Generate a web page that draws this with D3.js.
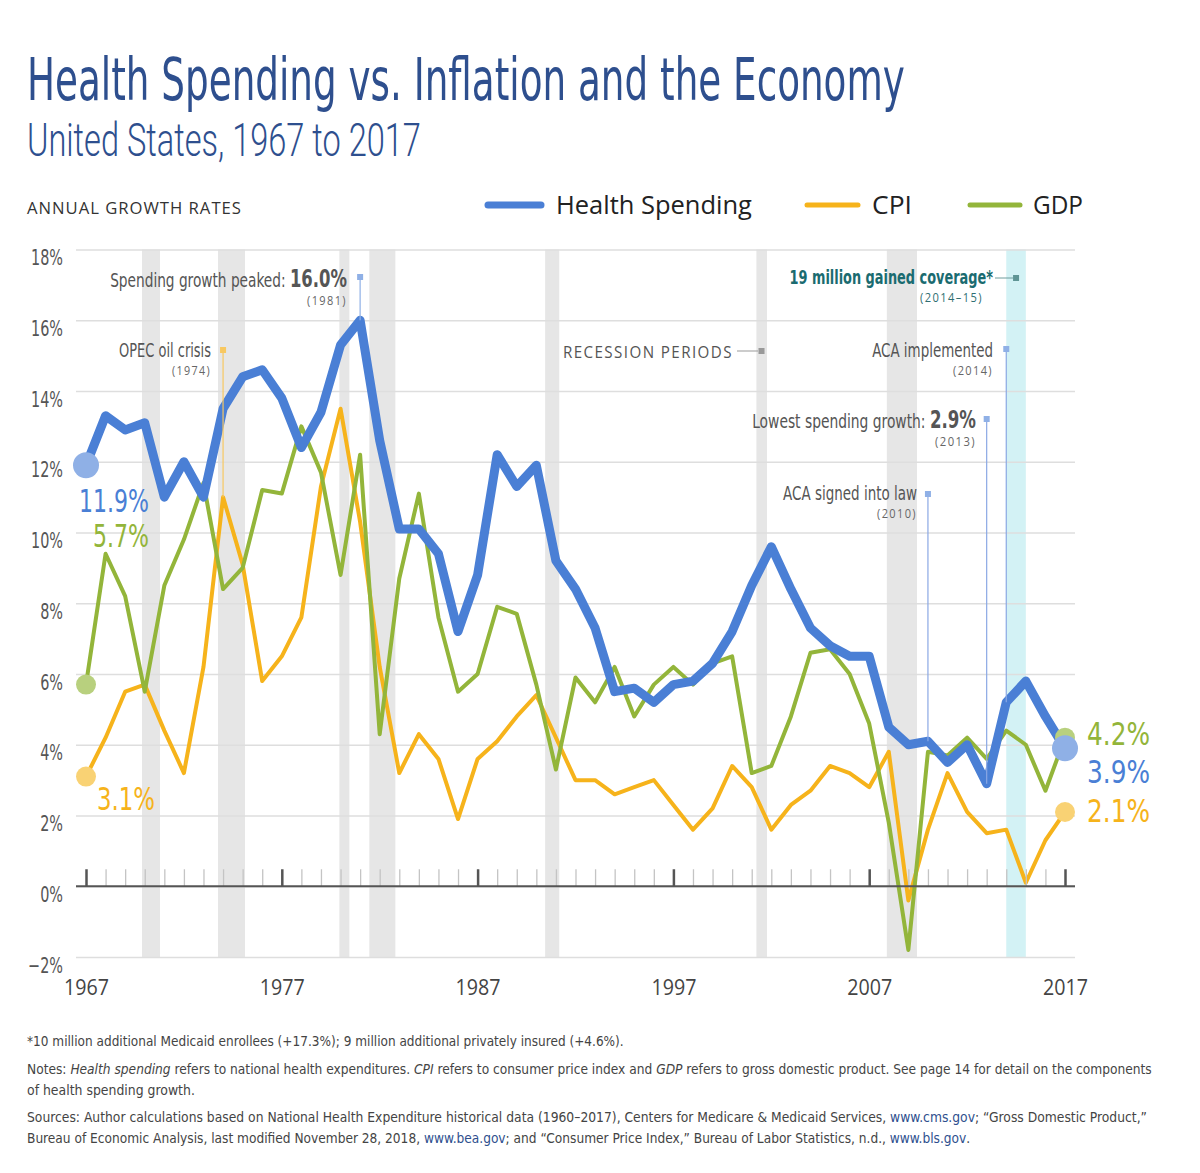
<!DOCTYPE html>
<html><head><meta charset="utf-8">
<script src="https://cdn.jsdelivr.net/npm/d3@7"></script>
<style>body{margin:0;background:#fff} svg{display:block}</style>
</head><body>
<svg id="c" width="1200" height="1173"></svg>
<script>
// ---------------- DATA ----------------
const years = d3.range(1967, 2018);
const health = [11.9,13.3,12.9,13.1,11.0,12.0,11.0,13.5,14.4,14.6,
                13.8,12.4,13.4,15.3,16.0,12.6,10.1,10.1,9.4,7.2,
                8.8,12.2,11.3,11.9,9.2,8.4,7.3,5.5,5.6,5.2,
                5.7,5.8,6.3,7.2,8.5,9.6,8.4,7.3,6.8,6.5,
                6.5,4.5,4.0,4.1,3.5,4.0,2.9,5.2,5.8,4.8,
                3.9];
const cpi = [3.1,4.2,5.5,5.7,4.4,3.2,6.2,11.0,9.1,5.8,
             6.5,7.6,11.3,13.5,10.3,6.2,3.2,4.3,3.6,1.9,
             3.6,4.1,4.8,5.4,4.2,3.0,3.0,2.6,2.8,3.0,
             2.3,1.6,2.2,3.4,2.8,1.6,2.3,2.7,3.4,3.2,
             2.8,3.8,-0.4,1.6,3.2,2.1,1.5,1.6,0.1,1.3,
             2.1];
const gdp = [5.7,9.4,8.2,5.5,8.5,9.8,11.4,8.4,9.0,11.2,
             11.1,13.0,11.7,8.8,12.2,4.3,8.7,11.1,7.6,5.5,
             6.0,7.9,7.7,5.7,3.3,5.9,5.2,6.2,4.8,5.7,
             6.2,5.7,6.3,6.5,3.2,3.4,4.8,6.6,6.7,6.0,
             4.6,1.8,-1.8,3.8,3.7,4.2,3.6,4.4,4.0,2.7,
             4.2];
const yTicks = [-2,0,2,4,6,8,10,12,14,16,18];
const yTickLabels = ["\u22122%","0%","2%","4%","6%","8%","10%","12%","14%","16%","18%"];
const xTickLabels = [1967,1977,1987,1997,2007,2017];
const recessions = [[1969.86,1970.78],[1973.74,1975.12],[1979.94,1980.45],[1981.47,1982.8],
                    [1990.45,1991.17],[2001.24,2001.78],[2007.9,2009.44]];
const coverageBand = [2014, 2015];
const seriesNames = ["Health Spending","CPI","GDP"];

// ---------------- SETUP ----------------
const C = {blue:"#4a7fd5", orange:"#f6b31b", green:"#93b53a",
           blueDot:"#8fb0e6", orangeDot:"#f9d274", greenDot:"#b8d07e",
           title:"#2e4f8e", teal:"#1a6b70"};
const COND = "'Liberation Sans Narrow','Arial Narrow','DejaVu Sans Condensed',Roboto,sans-serif";
const SANS = "'Open Sans','Noto Sans',sans-serif";
const svg = d3.select('#c');
const x = d3.scaleLinear().domain([1967,2017]).range([86,1065]);
const y = d3.scaleLinear().domain([-2,18]).range([957,249.5]);
const gx0 = 76, gx1 = 1075;

function addText(parent, px, py, parts, o) {
  o = o || {};
  const t = parent.append('text').attr('transform', `translate(${px},${py})`)
    .attr('text-anchor', o.anchor || 'start')
    .style('font-family', o.family || COND).style('font-size', (o.size||14)+'px')
    .style('font-weight', o.weight || 400).style('fill', o.fill || '#333');
  if (o.ls) t.style('letter-spacing', o.ls + 'px');
  (typeof parts === 'string' ? [{t: parts}] : parts).forEach(p => {
    const s = t.append('tspan').text(p.t);
    if (p.s) Object.entries(p.s).forEach(([k,v]) => s.style(k, v));
  });
  if (o.w) {
    const bw = t.node().getBBox().width;
    if (bw > 0) t.attr('transform', `translate(${px},${py}) scale(${o.w/bw},1)`);
  }
  return t;
}

// ---------------- TITLES ----------------
addText(svg, 27, 100, "Health Spending vs. Inflation and the Economy", {size:58, fill:C.title, w:878});
addText(svg, 27, 156, "United States, 1967 to 2017", {size:47, fill:C.title, family:"Roboto,"+SANS, weight:300, w:394});
addText(svg, 27, 214, "ANNUAL GROWTH RATES", {size:17, fill:"#333", family:SANS, ls:1, w:215});

// ---------------- LEGEND ----------------
const legend = [
  {name:seriesNames[0], color:C.blue, lx:488, lw:53, tx:556, tw:196, sw:7},
  {name:seriesNames[1], color:C.orange, lx:807, lw:51, tx:872, tw:40, sw:5},
  {name:seriesNames[2], color:C.green, lx:970, lw:50, tx:1033, tw:50, sw:5}];
legend.forEach(l => {
  svg.append('line').attr('x1',l.lx).attr('x2',l.lx+l.lw).attr('y1',205).attr('y2',205)
    .attr('stroke',l.color).attr('stroke-width',l.sw).attr('stroke-linecap','round');
  addText(svg, l.tx, 214, l.name, {size:26, fill:"#222", family:SANS, w:l.tw});
});

// ---------------- BANDS ----------------
const plot = svg.append('g');
plot.selectAll('rect.rec').data(recessions).join('rect').attr('class','rec')
  .attr('x', d => x(d[0])).attr('width', d => x(d[1]) - x(d[0]))
  .attr('y', y(18)).attr('height', y(-2) - y(18)).attr('fill', '#e6e6e6');
plot.append('rect').attr('x', x(coverageBand[0])).attr('width', x(coverageBand[1]) - x(coverageBand[0]))
  .attr('y', y(18)).attr('height', y(-2) - y(18)).attr('fill', '#d3f2f5');

// ---------------- GRID & Y AXIS ----------------
const grid = plot.append('g').attr('transform', `translate(${gx0},0)`)
  .call(d3.axisRight(y).tickValues(yTicks).tickSize(gx1-gx0).tickFormat(''));
grid.select('.domain').remove();
grid.selectAll('line').attr('stroke','#dedede').attr('stroke-width',1.5);

const yAx = svg.append('g').attr('transform','translate(63,0)')
  .call(d3.axisLeft(y).tickValues(yTicks).tickSize(0).tickPadding(0)
        .tickFormat((d,i) => yTickLabels[i]));
yAx.select('.domain').remove();
yAx.selectAll('text').attr('dy',null).attr('y',15).attr('x',0)
  .style('font-family',COND).style('font-size','21px').style('fill','#555');
let refW = 0;
yAx.selectAll('text').each(function(d){ if (d === 18) refW = this.getBBox().width; });
const ys = refW > 0 ? 32 / refW : 1;
yAx.selectAll('text').attr('transform', `scale(${ys},1)`);

// ---------------- X AXIS ----------------
const y0 = y(0);
const xt = svg.append('g').attr('transform', `translate(0,${y0})`)
  .call(d3.axisTop(x).tickValues(years).tickSize(17).tickFormat(''));
xt.select('.domain').remove();
xt.selectAll('.tick line').attr('stroke', d => (d-1967)%10===0 ? '#555' : '#c4c4c4')
  .attr('stroke-width', d => (d-1967)%10===0 ? 2.5 : 1.3);
svg.append('line').attr('x1',gx0).attr('x2',gx1).attr('y1',y0).attr('y2',y0)
  .attr('stroke','#555').attr('stroke-width',2);
const xl = svg.append('g').attr('transform','translate(0,995)')
  .call(d3.axisBottom(x).tickValues(xTickLabels).tickSize(0).tickPadding(0).tickFormat(d3.format('d')));
xl.select('.domain').remove();
xl.selectAll('text').attr('dy',null).attr('y',0)
  .style('font-family',SANS).style('font-size','21px').style('fill','#444');
xl.selectAll('text').each(function(){
  const bw = this.getBBox().width; if (bw>0) d3.select(this).attr('transform',`scale(${45/bw},1)`);
});

// ---------------- ANNOTATION LINES ----------------
const ann = svg.append('g');
function vmark(year, topY, bottomY, lineColor, sqColor) {
  ann.append('line').attr('x1',x(year)).attr('x2',x(year)).attr('y1',topY).attr('y2',bottomY)
    .attr('stroke',lineColor).attr('stroke-width',1.2);
  ann.append('rect').attr('x',x(year)-3).attr('y',topY-3).attr('width',6).attr('height',6).attr('fill',sqColor);
}
const yi = yr => yr - 1967;
vmark(1981, 277, y(health[yi(1981)]), '#8fb0e6', '#8fb0e6');
vmark(1974, 350, y(cpi[yi(1974)]), '#f8c860', '#f8c860');
vmark(2010, 494, y(health[yi(2010)]), '#8aa8e4', '#8fb0e6');
vmark(2013, 419, y(health[yi(2013)]), '#8aa8e4', '#8fb0e6');
vmark(2014, 349, y(health[yi(2014)]), '#8aa8e4', '#8fb0e6');
// recession label connector
ann.append('line').attr('x1',737).attr('x2',758).attr('y1',351).attr('y2',351).attr('stroke','#999').attr('stroke-width',1);
ann.append('rect').attr('x',x(2001.5)-3).attr('y',348).attr('width',6).attr('height',6).attr('fill','#999');
// coverage connector
ann.append('line').attr('x1',995).attr('x2',1013).attr('y1',278).attr('y2',278).attr('stroke','#6f9c9c').attr('stroke-width',1);
ann.append('rect').attr('x',x(2014.5)-3).attr('y',275).attr('width',6).attr('height',6).attr('fill','#5f9595');

// ---------------- SERIES ----------------
const lineGen = d3.line().x((d,i) => x(years[i])).y(d => y(d));
const series = [
  {vals:cpi, color:C.orange, w:4},
  {vals:gdp, color:C.green, w:4},
  {vals:health, color:C.blue, w:9}];
series.forEach(s => {
  plot.append('path').datum(s.vals).attr('d', lineGen).attr('fill','none')
    .attr('stroke', s.color).attr('stroke-width', s.w).attr('stroke-linejoin','round').attr('stroke-linecap','round');
});
const last = years.length - 1;
const dots = [
  {yr:years[0], v:gdp[0], r:10, c:C.greenDot},
  {yr:years[0], v:cpi[0], r:10, c:C.orangeDot},
  {yr:years[0], v:health[0], r:13, c:C.blueDot},
  {yr:years[last], v:gdp[last], r:10, c:C.greenDot},
  {yr:years[last], v:cpi[last], r:10, c:C.orangeDot},
  {yr:years[last], v:health[last], r:13, c:C.blueDot}];
plot.selectAll('circle.dot').data(dots).join('circle').attr('class','dot')
  .attr('cx', d => x(d.yr)).attr('cy', d => y(d.v)).attr('r', d => d.r).attr('fill', d => d.c);

// value labels
const f1 = d3.format('.1f');
addText(svg, 149, 512, f1(health[0])+'%', {size:32, fill:C.blue, anchor:'end', w:70});
addText(svg, 149, 547, f1(gdp[0])+'%', {size:32, fill:C.green, anchor:'end', w:56});
addText(svg, 97, 810, f1(cpi[0])+'%', {size:32, fill:C.orange, w:58});
addText(svg, 1087, 745, f1(gdp[last])+'%', {size:32, fill:C.green, w:63});
addText(svg, 1087, 783, f1(health[last])+'%', {size:32, fill:C.blue, w:63});
addText(svg, 1087, 822, f1(cpi[last])+'%', {size:32, fill:C.orange, w:63});

// ---------------- ANNOTATION TEXT ----------------
const G = '#555';
addText(svg, 347, 287, [{t:'Spending growth peaked: '},{t:f1(health[yi(1981)])+'%', s:{'font-weight':700,'font-size':'24px'}}],
  {size:20, fill:G, anchor:'end', w:237});
addText(svg, 347, 305, '(1981)', {size:12, fill:'#666', family:SANS, ls:1.5, anchor:'end', w:40});
addText(svg, 211, 357, 'OPEC oil crisis', {size:20, fill:G, anchor:'end', w:92});
addText(svg, 211, 375, '(1974)', {size:12, fill:'#666', family:SANS, ls:1.5, anchor:'end', w:39});
addText(svg, 563, 358, 'RECESSION PERIODS', {size:16, fill:G, family:SANS, ls:1.5, w:170});
addText(svg, 993, 284, '19 million gained coverage*', {size:20, fill:C.teal, weight:700, anchor:'end', w:204});
addText(svg, 983, 302, '(2014\u201315)', {size:12, fill:'#2f6e72', family:SANS, ls:1.5, anchor:'end', w:63});
addText(svg, 993, 357, 'ACA implemented', {size:20, fill:G, anchor:'end', w:121});
addText(svg, 993, 375, '(2014)', {size:12, fill:'#666', family:SANS, ls:1.5, anchor:'end', w:40});
addText(svg, 976, 428, [{t:'Lowest spending growth: '},{t:f1(health[yi(2013)])+'%', s:{'font-weight':700,'font-size':'24px'}}],
  {size:20, fill:G, anchor:'end', w:224});
addText(svg, 976, 446, '(2013)', {size:12, fill:'#666', family:SANS, ls:1.5, anchor:'end', w:41});
addText(svg, 917, 500, 'ACA signed into law', {size:20, fill:G, anchor:'end', w:134});
addText(svg, 917, 518, '(2010)', {size:12, fill:'#666', family:SANS, ls:1.5, anchor:'end', w:40});

// ---------------- FOOTNOTES ----------------
const FN = {size:14, fill:'#444'};
const it = {'font-style':'italic'};
const link = {'fill':'#2e4f8e'};
addText(svg, 27, 1046, '*10 million additional Medicaid enrollees (+17.3%); 9 million additional privately insured (+4.6%).', {...FN, w:597});
addText(svg, 27, 1074, [{t:'Notes: '},{t:'Health spending', s:it},{t:' refers to national health expenditures. '},{t:'CPI', s:it},
  {t:' refers to consumer price index and '},{t:'GDP', s:it},{t:' refers to gross domestic product. See page 14 for detail on the components'}], {...FN, w:1126});
addText(svg, 27, 1095, 'of health spending growth.', {...FN, w:168});
addText(svg, 27, 1122, [{t:'Sources: Author calculations based on National Health Expenditure historical data (1960\u20132017), Centers for Medicare & Medicaid Services, '},
  {t:'www.cms.gov', s:link},{t:'; \u201cGross Domestic Product,\u201d'}], {...FN, w:1121});
addText(svg, 27, 1143, [{t:'Bureau of Economic Analysis, last modified November 28, 2018, '},{t:'www.bea.gov', s:link},
  {t:'; and \u201cConsumer Price Index,\u201d Bureau of Labor Statistics, n.d., '},{t:'www.bls.gov', s:link},{t:'.'}], {...FN, w:943});
</script>
</body></html>
